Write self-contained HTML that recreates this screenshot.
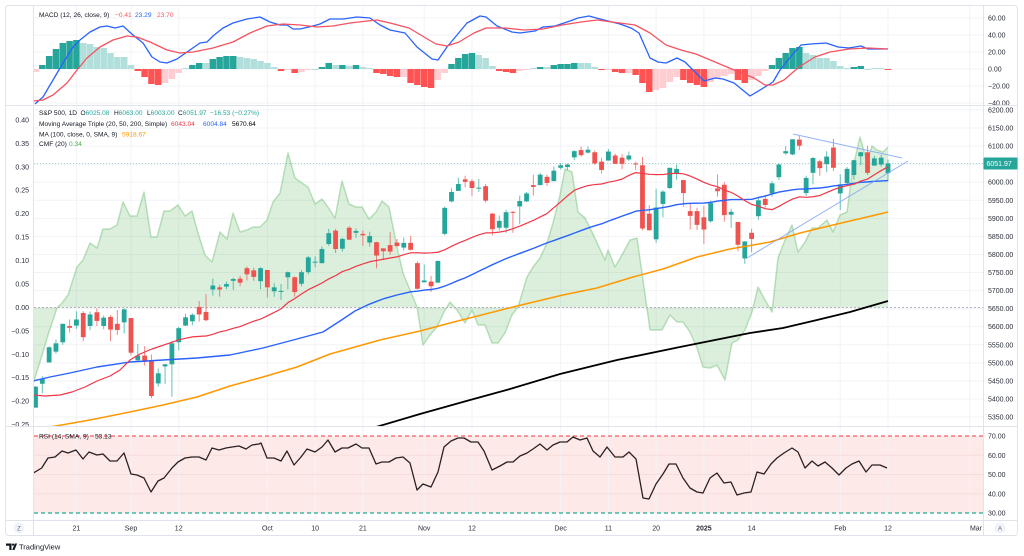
<!DOCTYPE html>
<html><head><meta charset="utf-8"><title>S&amp;P 500 chart</title>
<style>
html,body{margin:0;padding:0;background:#fff;width:1024px;height:556px;overflow:hidden}
svg{display:block}
text{font-family:"Liberation Sans",Arial,sans-serif;font-size:7px;fill:#131722}
.ax text{fill:#2a2e39}
.lg{font-size:6.6px}
</style></head><body>
<svg id="s" width="1024" height="556" viewBox="0 0 1024 556" xmlns="http://www.w3.org/2000/svg">
<defs>
<clipPath id="cm"><rect x="34" y="6" width="949" height="99"/></clipPath>
<clipPath id="cp"><rect x="34" y="106" width="949" height="320"/></clipPath>
<clipPath id="cr"><rect x="34" y="427" width="949" height="93"/></clipPath>
<clipPath id="cma"><rect x="984" y="6" width="34" height="99"/></clipPath>
<clipPath id="cpa"><rect x="0" y="106" width="1024" height="320"/></clipPath>
</defs>
<rect x="0" y="0" width="1024" height="556" fill="#fff"/>
<rect x="34" y="436" width="949" height="77" fill="#fdeae8"/>
<g id="grid"></g>
<g clip-path="url(#cp)" id="main"></g>
<g clip-path="url(#cm)" id="macd"></g>
<g clip-path="url(#cr)" id="rsi"></g>

<!-- frame -->
<g stroke="#e0e3eb" stroke-width="1" fill="none">
<rect x="5.5" y="5.5" width="1012" height="530" rx="3"/>
<line x1="5" y1="105.5" x2="1018" y2="105.5"/>
<line x1="5" y1="426.5" x2="1018" y2="426.5"/>
<line x1="5" y1="520.5" x2="1018" y2="520.5"/>
<line x1="33.5" y1="5" x2="33.5" y2="536"/>
<line x1="983.5" y1="5" x2="983.5" y2="536"/>
</g>

<!-- right axis MACD -->
<g class="ax" clip-path="url(#cma)">
<text x="988" y="20.5">60.00</text>
<text x="988" y="37.5">40.00</text>
<text x="988" y="54.5">20.00</text>
<text x="988" y="71.5">0.00</text>
<text x="988" y="88.5">−20.00</text>
<text x="988" y="105.5">−40.00</text>
</g>
<!-- right axis main -->
<g class="ax">
<text x="988" y="112.5">6200.00</text>
<text x="988" y="130.6">6150.00</text>
<text x="988" y="148.6">6100.00</text>
<text x="988" y="184.7">6000.00</text>
<text x="988" y="202.8">5950.00</text>
<text x="988" y="220.9">5900.00</text>
<text x="988" y="238.9">5850.00</text>
<text x="988" y="257">5800.00</text>
<text x="988" y="275">5750.00</text>
<text x="988" y="293.1">5700.00</text>
<text x="988" y="311.1">5650.00</text>
<text x="988" y="329.2">5600.00</text>
<text x="988" y="347.3">5550.00</text>
<text x="988" y="365.3">5500.00</text>
<text x="988" y="383.4">5450.00</text>
<text x="988" y="401.4">5400.00</text>
<text x="988" y="419.5">5350.00</text>
<text x="988" y="438.5">70.00</text>
<text x="988" y="457.8">60.00</text>
<text x="988" y="477">50.00</text>
<text x="988" y="496.3">40.00</text>
<text x="988" y="515.5">30.00</text>
</g>
<rect x="983.5" y="157.5" width="34" height="12" rx="1" fill="#26a69a"/>
<text x="986.5" y="166" style="fill:#fff">6051.97</text>

<!-- left axis CMF -->
<g class="ax" text-anchor="end" clip-path="url(#cpa)">
<text x="29" y="122.5">0.40</text>
<text x="29" y="145.9">0.35</text>
<text x="29" y="169.3">0.30</text>
<text x="29" y="192.7">0.25</text>
<text x="29" y="216.1">0.20</text>
<text x="29" y="239.5">0.15</text>
<text x="29" y="262.9">0.10</text>
<text x="29" y="286.3">0.05</text>
<text x="29" y="310">0.00</text>
<text x="29" y="333.5">−0.05</text>
<text x="29" y="356.8">−0.10</text>
<text x="29" y="380.2">−0.15</text>
<text x="29" y="403.5">−0.20</text>
<text x="29" y="427">−0.25</text>
</g>

<!-- legends -->
<g class="lg">
<text class="lg" x="39" y="17.2">MACD (12, 26, close, 9)</text>
<text class="lg" x="115" y="17.2" style="fill:#ff5252">−0.41</text>
<text class="lg" x="135" y="17.2" style="fill:#2962ff">23.29</text>
<text class="lg" x="157" y="17.2" style="fill:#f7525f">23.70</text>

<text class="lg" x="39" y="114.8">S&amp;P 500, 1D</text>
<text class="lg" x="80.5" y="114.8">O<tspan style="fill:#26a69a">6025.08</tspan></text>
<text class="lg" x="114" y="114.8">H<tspan style="fill:#26a69a">6063.00</tspan></text>
<text class="lg" x="147" y="114.8">L<tspan style="fill:#26a69a">6003.00</tspan></text>
<text class="lg" x="178" y="114.8">C<tspan style="fill:#26a69a">6051.97</tspan></text>
<text class="lg" x="210" y="114.8" style="fill:#26a69a">−16.53 (−0.27%)</text>

<text class="lg" x="39" y="125.8">Moving Average Triple (20, 50, 200, Simple)</text>
<text class="lg" x="171" y="125.8" style="fill:#f23645">6043.04</text>
<text class="lg" x="203" y="125.8" style="fill:#2962ff">6004.84</text>
<text class="lg" x="232" y="125.8" style="fill:#000">5670.64</text>

<text class="lg" x="39" y="136.5">MA (100, close, 0, SMA, 9)</text>
<text class="lg" x="122" y="136.5" style="fill:#ff9800">5918.67</text>

<text class="lg" x="39" y="145.8">CMF (20)</text>
<text class="lg" x="69" y="145.8" style="fill:#4caf50">0.34</text>

<text class="lg" x="39" y="438.5">RSI (14, SMA, 9)</text>
<text class="lg" x="95" y="438.5">53.13</text>
</g>

<!-- date axis -->
<g class="ax" text-anchor="middle">
<circle cx="19" cy="528" r="5.5" fill="#f0f3fa"/>
<text x="19" y="530.5" style="font-size:6px;fill:#6a6d78">Z</text>
<text x="76.4" y="530.5">21</text>
<text x="131" y="530.5">Sep</text>
<text x="178.7" y="530.5">12</text>
<text x="267.4" y="530.5">Oct</text>
<text x="315.1" y="530.5">10</text>
<text x="362.9" y="530.5">21</text>
<text x="424.2" y="530.5">Nov</text>
<text x="472" y="530.5">12</text>
<text x="560.6" y="530.5">Dec</text>
<text x="608.4" y="530.5">11</text>
<text x="656.1" y="530.5">20</text>
<text x="703.9" y="530.5" style="font-weight:bold">2025</text>
<text x="751.6" y="530.5">14</text>
<text x="840.3" y="530.5">Feb</text>
<text x="888" y="530.5">12</text>
<text x="982" y="530.5" text-anchor="end">Mar</text>
<circle cx="1000" cy="528" r="5.5" fill="#f0f3fa"/>
<text x="1000" y="530.5" style="font-size:6px;fill:#6a6d78">A</text>
</g>

<!-- TradingView logo -->
<path d="M6 543.5h5.5v6.5h-2.2v-4.3H6z" fill="#131722"/>
<circle cx="13" cy="544.6" r="1.1" fill="#131722"/>
<path d="M12.2 550l2.6-6.5h2.3l-2.6 6.5z" fill="#131722"/>
<text x="19" y="549.6" style="font-size:7.5px">TradingView</text>
</svg>
<script>
(function(){
const NS='http://www.w3.org/2000/svg';
function el(parent,tag,attrs){const e=document.createElementNS(NS,tag);for(const k in attrs)e.setAttribute(k,attrs[k]);document.getElementById(parent).appendChild(e);return e;}
function P(pts){return pts.map((p,i)=>(i?'L':'M')+p[0].toFixed(2)+' '+p[1].toFixed(2)).join('');}
const X=i=>35.5+i*6.82, Y=p=>110+(6200-p)*0.36118;
const D=[
[5376,5436,5376,5434],[5442,5463,5416,5455],[5501,5546,5501,5543],[5531,5564,5525,5554],[5557,5608,5550,5608],[5602,5620,5584,5597],[5603,5643,5594,5620],[5638,5643,5560,5571],[5602,5642,5590,5634],[5640,5651,5602,5616],[5602,5631,5593,5625],[5627,5632,5560,5592],[5608,5646,5577,5591],[5612,5651,5581,5648],
[5624,5624,5521,5528],[5507,5552,5503,5520],[5520,5546,5492,5503],[5507,5523,5402,5408],[5443,5484,5434,5471],[5490,5497,5441,5496],[5496,5561,5406,5554],[5557,5600,5535,5596],[5603,5636,5602,5626],[5615,5637,5604,5633],[5655,5671,5614,5634],[5641,5690,5615,5618],[5703,5733,5686,5714],[5709,5716,5683,5703],[5711,5725,5704,5718],[5727,5736,5702,5732],[5733,5741,5712,5722],[5762,5767,5728,5745],[5756,5764,5727,5738],[5726,5765,5704,5762],
[5757,5757,5681,5709],[5698,5720,5683,5709],[5698,5718,5674,5699],[5737,5753,5703,5751],[5737,5739,5683,5696],[5719,5757,5712,5751],[5751,5796,5745,5792],[5778,5795,5764,5780],[5776,5822,5775,5815],[5829,5871,5824,5859],[5866,5871,5804,5815],[5816,5846,5808,5843],[5874,5878,5840,5841],[5860,5872,5846,5865],[5857,5866,5824,5853],[5833,5863,5822,5851],[5834,5835,5762,5797],[5817,5817,5784,5809],[5826,5862,5799,5808],[5833,5843,5823,5823],[5819,5847,5811,5832],[5832,5851,5811,5813],[5776,5781,5703,5705],
[5723,5772,5723,5728],[5725,5741,5696,5712],[5722,5783,5722,5782],[5857,5933,5853,5929],[5947,5983,5944,5973],[5976,6012,5976,5995],[6008,6018,5986,6001],[6003,6009,5961,5984],[5985,6009,5973,5985],[5989,5995,5944,5949],[5913,5915,5853,5870],[5874,5908,5866,5893],[5874,5924,5860,5917],[5918,5920,5860,5917],[5933,5963,5884,5948],[5947,5973,5945,5969],[5992,6021,5963,5987],[5992,6026,5992,6021],[6015,6021,5990,5998],[6003,6044,6003,6032],
[6040,6053,6035,6047],[6042,6052,6034,6049],[6069,6089,6061,6086],[6089,6099,6071,6075],[6082,6099,6079,6090],[6083,6088,6048,6052],[6057,6068,6024,6034],[6060,6092,6060,6085],[6074,6079,6051,6051],[6068,6078,6036,6051],[6063,6085,6059,6074],[6052,6057,6035,6050],[6047,6070,5867,5872],[5913,5936,5866,5867],[5842,5982,5832,5930],[5940,5978,5903,5974],[5984,6040,5981,6040],[6024,6049,6007,6037],[6006,6007,5932,5970],[5920,5941,5869,5907],[5920,5929,5868,5882],
[5903,5935,5829,5869],[5892,5949,5888,5942],[5983,6021,5960,5975],[5993,6000,5891,5909],[5910,5927,5874,5918],[5890,5890,5809,5827],[5789,5837,5774,5836],[5860,5871,5806,5843],[5906,5960,5896,5950],[5954,5965,5930,5937],[5969,6003,5960,5997],[6014,6052,6006,6049],[6080,6100,6076,6086],[6077,6119,6075,6119],[6118,6128,6089,6101],[5970,6018,5962,6012],[6026,6070,5994,6067],[6058,6063,6018,6039],[6050,6086,6028,6071],[6096,6120,6031,6040],
[5969,6022,5923,5994],[5998,6042,5990,6037],[6020,6062,6007,6061],[6072,6084,6047,6083],[6083,6101,6020,6026],[6046,6073,6046,6066],[6049,6076,6043,6068],[6025,6063,6003,6052]
];
// grid
const gx=[76.4,131,178.7,267.4,315.1,362.9,424.2,472,560.6,608.4,656.1,703.9,751.6,840.3,888,969.8];
gx.forEach(x=>el('grid','line',{x1:x,x2:x,y1:6,y2:520,stroke:'#f2f3f7','stroke-width':1}));
for(let p=6200;p>=5350;p-=50){const y=Y(p);el('grid','line',{x1:34,x2:983,y1:y,y2:y,stroke:'#f2f3f7','stroke-width':1});}
[60,40,20,0,-20,-40].forEach(v=>{const y=69-v*0.85;el('grid','line',{x1:34,x2:983,y1:y,y2:y,stroke:'#f2f3f7','stroke-width':1});});
[455.3,474.5,493.8].forEach(y=>el('grid','line',{x1:34,x2:983,y1:y,y2:y,stroke:'#f6dcda','stroke-width':1}));

// CMF
const cmf=[[33.5,382],[40,362],[48,335],[57,308],[62,303],[68,295],[77,267],[83,260],[90,243],[97,248],[103,229],[110,229],[117,225],[123,202],[130,216],[137,216],[144,192],[151,237],[157,237],[164,211],[170,211],[178,205],[185,216],[192,211],[198,233],[205,255],[212,262],[220,232],[227,239],[233,213],[240,232],[247,230],[253,227],[260,227],[267,220],[273,202],[280,193],[288,153],[295,178],[302,183],[308,187],[315,204],[322,199],[328,207],[335,218],[342,181],[349,204],[356,207],[362,207],[369,219],[376,212],[382,201],[389,207],[397,247],[403,273],[410,290],[417,307],[423,345],[430,335],[437,327],[444,312],[450,302],[457,310],[465,323],[472,310],[478,325],[485,325],[492,343],[498,343],[505,333],[512,315],[518,307],[527,277],[533,267],[540,258],[547,243],[553,223],[560,195],[565,169],[572,172],[578,212],[585,218],[592,232],[598,245],[605,260],[608,250],[615,267],[623,253],[630,240],[637,238],[643,280],[650,330],[656,330],[662,330],[670,315],[677,322],[683,322],[690,332],[697,348],[703,367],[710,368],[717,365],[725,380],[732,343],[738,340],[745,330],[752,312],[758,287],[765,300],[772,312],[778,258],[785,240],[792,225],[798,252],[805,242],[812,228],[818,228],[827,220],[833,232],[840,215],[847,212],[853,167],[860,137],[867,162],[872,146],[877,150],[883,152],[888,147]];
el('main','path',{d:P(cmf)+'L888 307.5L33.5 307.5Z',fill:'rgba(76,175,80,0.2)',stroke:'none'});
el('main','path',{d:P(cmf),fill:'none',stroke:'rgba(76,175,80,0.35)','stroke-width':1.5,'stroke-linejoin':'round'});
el('main','line',{x1:34,x2:983,y1:307.5,y2:307.5,stroke:'#b2b5be','stroke-dasharray':'2 2','stroke-width':1});
el('main','line',{x1:34,x2:983,y1:163.5,y2:163.5,stroke:'rgba(38,166,154,0.45)','stroke-dasharray':'1 2','stroke-width':1});

// candles
D.forEach((d,i)=>{const [o,h,l,c]=d;const up=c>=o;const col=up?'#26a69a':'#ef5350';const x=X(i);
el('main','line',{x1:x,x2:x,y1:Y(h),y2:Y(l),stroke:col,'stroke-opacity':0.7,'stroke-width':1});
const yt=Y(Math.max(o,c)),yb=Y(Math.min(o,c));
el('main','rect',{x:x-2.4,y:yt,width:4.8,height:Math.max(1,yb-yt),fill:col});});

// SMAs
function sma(n,start){const pts=[];for(let i=start;i<D.length;i++){let s=0;for(let k=i-n+1;k<=i;k++)s+=D[k][3];pts.push([X(i),Y(s/n)]);}return pts;}
const red=[[33,395],[45,396],[60,395],[72,392],[85,387],[97,381],[110,376],[120,370],[130,360],[140,354],[152,349]].concat(sma(20,19));
const blue=[[33,381],[50,377],[70,373],[97,367],[130,362],[163,360],[197,358],[230,355],[263,348],[297,339],[323,332],[340,321],[355,311]].concat(sma(50,49));
const orange=[[33,429],[50,427],[90,420],[130,412],[163,405],[197,397],[230,386],[263,377],[297,367],[330,354],[380,340],[420,331],[450,323],[517,306],[563,295],[597,288],[633,277],[663,269],[697,257],[730,249],[770,242],[800,233],[833,225],[867,217],[888,212]];
const black=[[376,427],[420,414],[470,400],[510,389],[560,374],[617,360],[680,347],[750,333],[783,328],[817,320],[850,312],[888,301]];
el('main','path',{d:P(black),fill:'none',stroke:'#000','stroke-width':1.8,'stroke-linejoin':'round'});
el('main','path',{d:P(orange),fill:'none',stroke:'#ff9800','stroke-width':1.5,'stroke-linejoin':'round'});
el('main','path',{d:P(blue),fill:'none',stroke:'#2962ff','stroke-width':1.4,'stroke-linejoin':'round'});
el('main','path',{d:P(red),fill:'none',stroke:'#f23645','stroke-width':1.2,'stroke-linejoin':'round'});
// trend lines
el('main','line',{x1:793,y1:134,x2:902,y2:158,stroke:'#7ea6f5','stroke-width':1,'stroke-opacity':0.85});
el('main','line',{x1:747,y1:258,x2:908,y2:161,stroke:'#7ea6f5','stroke-width':1,'stroke-opacity':0.85});

// MACD histogram
const HV=[72,65,56,49,43,41,40,43,44,47,48,53,57,57,65,71,77,84,85,83,79,73,68,65,63,63,59,57,56,56,57,58,59,61,63,67,71,70,73,72,70,69,67,63,65,65,66,65,67,68,73,74,76,77,77,83,85,87,88,80,73,64,58,54,53,55,58,66,71,72,73,71,70,68,67,67,65,64,64,63,63,63,67,70,69,72,73,73,75,83,92,90,88,82,77,80,83,85,87,82,78,76,74,80,83,80,76,71,65,58,53,48,47,53,55,58,58,61,66,68,67,66,69,68,68,70];
const HC="PDDDDDDLLL"+"LLLLLRRRRP"+"PPLDDLDDDD"+"LLLLLLRPRP"+"PLDDLDLDLL"+"RRRRPRRRRP"+"PDDDDLLLRR"+"RPPLDLDDDD"+"LLLRPRRPRR"+"RPPPPRRRRP"+"PPPRRPPPDD"+"DDDLLLLLLL"+"DDLLLR";
const CM={D:'#26a69a',L:'#b2dfdb',R:'#ff5252',P:'#ffcdd2'};
HV.forEach((v,i)=>{const y0=Math.min(69,v),y1=Math.max(69,v);el('macd','rect',{x:X(i)-3.25,y:y0,width:6.5,height:Math.max(1,y1-y0),fill:CM[HC[i]]});});
const mb=[[35,104],[43,97],[53,80],[63,63],[73,47],[80,40],[90,32],[100,27],[107,26],[115,28],[123,26],[133,35],[143,43],[152,57],[160,62],[167,63],[177,59],[187,52],[200,43],[207,42],[213,36],[223,28],[233,23],[247,19],[260,17],[270,22],[280,25],[287,25],[293,29],[300,29],[313,26],[320,24],[330,19],[343,19],[357,17],[370,18],[380,25],[390,30],[405,33],[417,47],[432,59],[438,60],[447,47],[467,23],[480,16],[486,17],[497,26],[512,32],[520,33],[535,31],[543,27],[555,26],[570,21],[578,18],[589,16],[600,19],[620,24],[631,28],[639,33],[650,58],[658,62],[666,63],[677,58],[685,62],[696,73],[704,81],[715,78],[723,79],[734,83],[750,96],[765,87],[773,82],[780,70],[792,55],[801,45],[811,44],[826,43],[838,47],[849,48],[861,46],[868,49],[888,49]];
const ms=[[33,101],[43,100],[53,95],[67,83],[77,70],[87,58],[100,47],[113,40],[127,36],[137,37],[150,42],[167,50],[180,53],[193,52],[213,48],[233,42],[250,33],[267,26],[283,24],[300,25],[317,27],[333,26],[350,23],[367,21],[377,20],[390,23],[409,28],[424,37],[436,44],[447,46],[459,42],[474,33],[486,28],[505,28],[524,30],[543,29],[562,25],[581,22],[597,20],[612,22],[635,25],[650,33],[666,45],[681,50],[696,54],[715,62],[734,70],[754,78],[765,85],[773,85],[784,80],[799,67],[815,57],[830,52],[849,49],[868,48],[888,49]];
el('macd','path',{d:P(mb),fill:'none',stroke:'#2962ff','stroke-width':1.3,'stroke-linejoin':'round'});
el('macd','path',{d:P(ms),fill:'none',stroke:'#f7525f','stroke-width':1.3,'stroke-linejoin':'round'});

// RSI
el('rsi','line',{x1:34,x2:983,y1:436,y2:436,stroke:'#f23645','stroke-dasharray':'4 3','stroke-width':1});
el('rsi','line',{x1:34,x2:983,y1:513,y2:513,stroke:'#22ab94','stroke-dasharray':'4 3','stroke-width':1.3});
const rs=[[33.3,473],[41.7,468],[48,458],[55,457],[62,451],[68,453],[76,450],[83,459],[89,452],[97,455],[103,454],[110,461],[117,461],[124,453],[131,474],[137,475],[144,478],[151,492],[158,481],[164,478],[172,468],[178,462],[185,458],[192,457],[199,457],[206,460],[212,448],[219,450],[226,448],[232,447],[239,446],[246,449],[252,445],[259,444],[261,443],[267,458],[274,458],[281,461],[287,451],[294,465],[301,457],[307,449],[315,452],[322,447],[328,440],[335,452],[342,448],[348,448],[356,444],[362,448],[369,448],[376,464],[382,462],[389,462],[396,458],[403,457],[410,463],[417,490],[423,484],[431,487],[438,472],[444,447],[451,441],[458,438],[464,438],[471,442],[478,442],[484,451],[492,470],[500,466],[507,462],[513,462],[520,456],[527,453],[533,449],[540,444],[547,450],[553,445],[560,442],[567,442],[573,437],[580,440],[587,438],[593,451],[600,457],[607,447],[615,457],[623,457],[629,452],[636,459],[643,498],[649,499],[656,484],[663,474],[669,464],[676,464],[683,478],[690,488],[697,492],[703,493],[710,478],[717,473],[724,483],[731,482],[737,495],[744,493],[751,492],[757,472],[764,474],[771,464],[777,458],[784,453],[792,448],[798,452],[805,468],[812,461],[818,466],[825,462],[832,468],[839,475],[846,468],[852,464],[859,461],[866,472],[872,465],[880,465],[887,468]];
el('rsi','path',{d:P(rs),fill:'none',stroke:'#2a2023','stroke-width':1.3,'stroke-linejoin':'round'});
})();
</script>
</body></html>
